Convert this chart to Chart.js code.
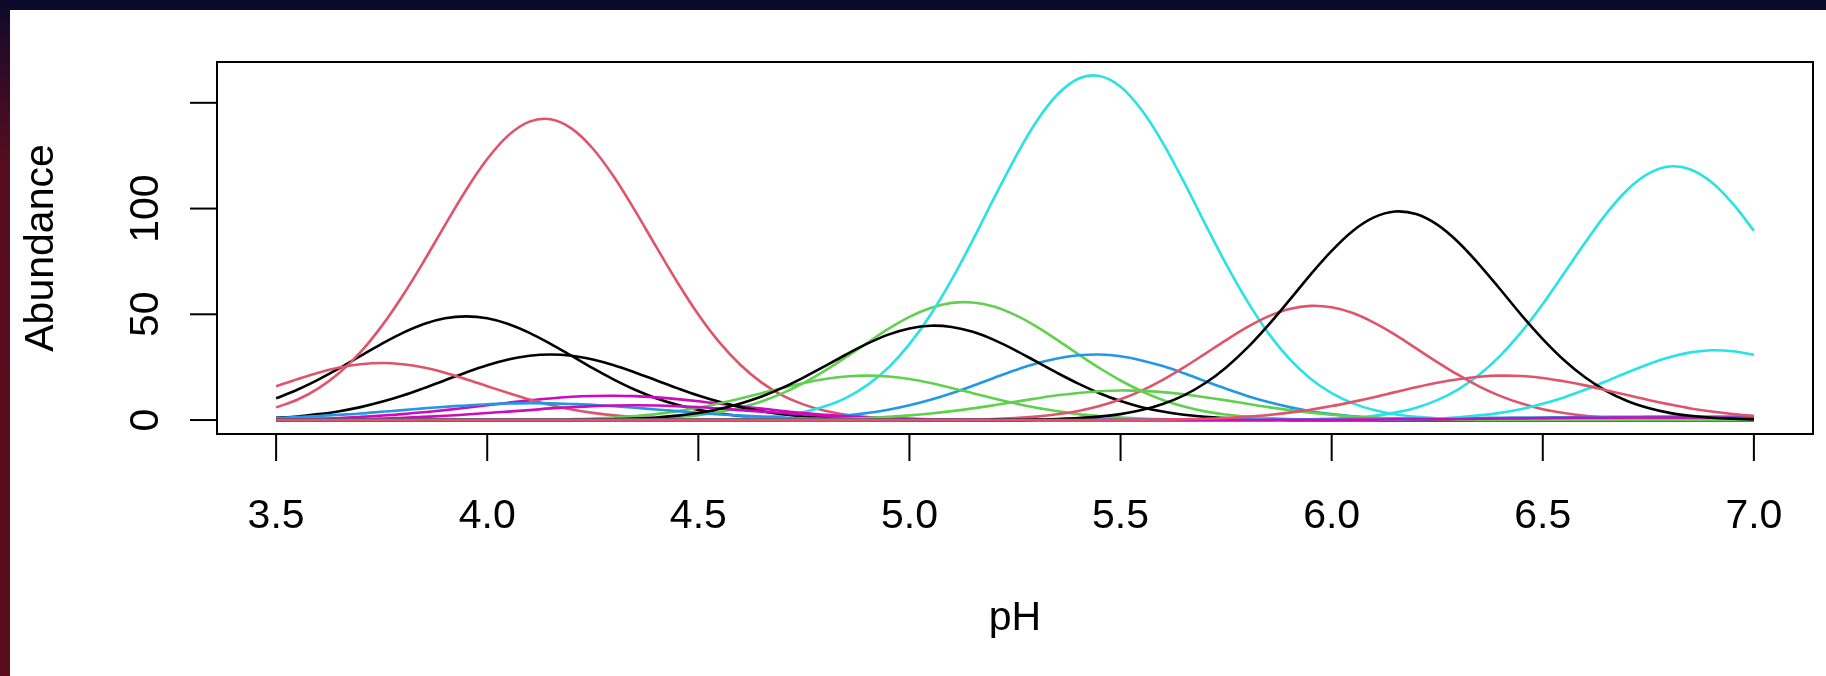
<!DOCTYPE html>
<html lang="en">

<head>
    <meta charset="utf-8">
    <title>Species abundance along pH</title>

    <!-- Chart.js -->
    <script src="https://cdn.jsdelivr.net/npm/chart.js@4.4.1/dist/chart.umd.min.js"></script>

    <style>
        body {
            margin: 0;
            background-color: #ffffff;
            width: 1826px;
            height: 676px;
            overflow: hidden;
            position: relative;
        }

        #topBand {
            position: absolute;
            left: 0;
            top: 0;
            width: 1826px;
            height: 10px;
            background-color: #0b0a2a;
        }

        #leftBand {
            position: absolute;
            left: 0;
            top: 0;
            width: 10px;
            height: 676px;
            background: linear-gradient(to bottom, #0b0a2a 0px, #2c0b26 60px, #550d1f 160px, #5a0c1a 676px);
        }

        #wrap {
            position: absolute;
            left: 10px;
            top: 10px;
        }
    </style>
</head>

<body>
    <div id="topBand"></div>
    <div id="leftBand"></div>
    <div id="wrap">
        <canvas id="myChart" width="1816" height="666"></canvas>
    </div>
</body>

<script>
    // pH grid the curves were read at
    var pH = [
        3.50, 3.55, 3.60, 3.65, 3.70, 3.75, 3.80, 3.85, 3.90, 3.95,
        4.00, 4.05, 4.10, 4.15, 4.20, 4.25, 4.30, 4.35, 4.40, 4.45,
        4.50, 4.55, 4.60, 4.65, 4.70, 4.75, 4.80, 4.85, 4.90, 4.95,
        5.00, 5.05, 5.10, 5.15, 5.20, 5.25, 5.30, 5.35, 5.40, 5.45,
        5.50, 5.55, 5.60, 5.65, 5.70, 5.75, 5.80, 5.85, 5.90, 5.95,
        6.00, 6.05, 6.10, 6.15, 6.20, 6.25, 6.30, 6.35, 6.40, 6.45,
        6.50, 6.55, 6.60, 6.65, 6.70, 6.75, 6.80, 6.85, 6.90, 6.95,
        7.00
    ];

    // abundance of each species (one value per pH step)
    var sp1 = [
        10.3, 14.3, 19.1, 24.5, 30.3, 36.0, 41.2, 45.4, 48.1, 49.0,
        48.1, 45.4, 41.2, 36.0, 30.3, 24.5, 19.1, 14.3, 10.3, 7.2,
        4.8, 3.1, 1.9, 1.1, 0.6, 0.4, 0.2, 0.1, 0, 0,
        0, 0, 0, 0, 0, 0, 0, 0, 0, 0,
        0, 0, 0, 0, 0, 0, 0, 0, 0, 0,
        0, 0, 0, 0, 0, 0, 0, 0, 0, 0,
        0, 0, 0, 0, 0, 0, 0, 0, 0, 0,
        0
    ];
    var sp2 = [
        6.0, 9.6, 15.0, 22.4, 32.1, 44.4, 58.9, 75.1, 92.2, 108.8,
        123.4, 134.6, 141.1, 142.2, 137.8, 128.4, 115.0, 99.0, 82.0, 65.3,
        49.9, 36.7, 26.0, 17.7, 11.5, 7.3, 4.4, 2.5, 1.4, 0.8,
        0.4, 0.2, 0.1, 0, 0, 0, 0, 0, 0, 0,
        0, 0, 0, 0, 0, 0, 0, 0, 0, 0,
        0, 0, 0, 0, 0, 0, 0, 0, 0, 0,
        0, 0, 0, 0, 0, 0, 0, 0, 0, 0,
        0
    ];
    var sp3 = [
        0, 0, 0, 0, 0, 0, 0, 0, 0, 0,
        0, 0, 0, 0, 0, 0.1, 0.2, 0.4, 0.8, 1.4,
        2.3, 3.8, 5.9, 8.8, 12.7, 17.6, 23.4, 29.8, 36.5, 43.1,
        48.8, 53.0, 55.4, 55.6, 53.7, 49.7, 44.3, 37.9, 31.1, 24.6,
        18.7, 13.6, 9.5, 6.4, 4.1, 2.6, 1.5, 0.9, 0.5, 0.3,
        0.1, 0, 0, 0, 0, 0, 0, 0, 0, 0,
        0, 0, 0, 0, 0, 0, 0, 0, 0, 0,
        0
    ];
    var sp4 = [
        0, 0, 0, 0, 0, 0, 0, 0, 0, 0,
        0, 0, 0, 0, 0, 0, 0, 0, 0, 0,
        0, 0.1, 0.1, 0.3, 0.5, 0.8, 1.3, 2.1, 3.3, 4.9,
        7.0, 9.6, 12.7, 16.2, 19.9, 23.5, 26.7, 29.1, 30.6, 31.0,
        30.2, 28.2, 25.5, 22.1, 18.4, 14.8, 11.4, 8.5, 6.1, 4.2,
        2.8, 1.8, 1.1, 0.6, 0.4, 0.2, 0.1, 0, 0, 0,
        0, 0, 0, 0, 0, 0, 0, 0, 0, 0,
        0
    ];
    var sp5 = [
        0, 0, 0, 0, 0, 0, 0, 0, 0, 0,
        0, 0, 0, 0, 0, 0, 0, 0, 0, 0.1,
        0.1, 0.3, 0.6, 1.2, 2.2, 3.8, 6.5, 10.5, 16.5, 24.8,
        35.9, 49.8, 66.4, 85.1, 104.8, 123.9, 140.9, 153.8, 161.4, 162.7,
        157.6, 146.6, 131.1, 112.6, 92.9, 73.7, 56.2, 41.1, 28.9, 19.5,
        12.7, 7.9, 4.7, 2.7, 1.5, 0.8, 0.4, 0.2, 0.1, 0,
        0, 0, 0, 0, 0, 0, 0, 0, 0, 0,
        0
    ];
    var sp6 = [
        0.3, 0.5, 0.7, 1.0, 1.5, 2.1, 2.8, 3.7, 4.7, 5.8,
        7.0, 8.2, 9.3, 10.2, 11.0, 11.4, 11.5, 11.3, 10.7, 9.9,
        8.9, 7.7, 6.5, 5.4, 4.3, 3.3, 2.5, 1.8, 1.3, 0.9,
        0.6, 0.4, 0.2, 0.1, 0.1, 0, 0, 0, 0, 0,
        0, 0, 0, 0, 0, 0, 0, 0, 0, 0,
        0, 0, 0, 0, 0, 0, 0, 0, 0, 0,
        0, 0, 0, 0, 0, 0, 0, 0, 0, 0,
        0
    ];
    var sp7 = [
        1.1, 1.7, 2.8, 4.2, 6.1, 8.6, 11.6, 15.1, 18.8, 22.5,
        25.9, 28.6, 30.4, 31.0, 30.4, 28.6, 25.9, 22.5, 18.8, 15.1,
        11.6, 8.6, 6.1, 4.2, 2.8, 1.7, 1.1, 0.6, 0.3, 0.2,
        0.1, 0, 0, 0, 0, 0, 0, 0, 0, 0,
        0, 0, 0, 0, 0, 0, 0, 0, 0, 0,
        0, 0, 0, 0, 0, 0, 0, 0, 0, 0,
        0, 0, 0, 0, 0, 0, 0, 0, 0, 0,
        0
    ];
    var sp8 = [
        16.0, 19.3, 22.4, 24.8, 26.4, 27.0, 26.4, 24.8, 22.4, 19.3,
        16.0, 12.8, 9.7, 7.1, 5.0, 3.4, 2.2, 1.3, 0.8, 0.5,
        0.2, 0.1, 0.1, 0, 0, 0, 0, 0, 0, 0,
        0, 0, 0, 0, 0, 0, 0, 0, 0, 0,
        0, 0, 0, 0, 0, 0, 0, 0, 0, 0,
        0, 0, 0, 0, 0, 0, 0, 0, 0, 0,
        0, 0, 0, 0, 0, 0, 0, 0, 0, 0,
        0
    ];
    var sp9 = [
        0, 0, 0, 0, 0, 0, 0, 0, 0, 0,
        0, 0.1, 0.1, 0.2, 0.4, 0.7, 1.2, 1.9, 2.8, 4.2,
        5.8, 7.9, 10.2, 12.7, 15.2, 17.5, 19.4, 20.6, 21.0, 20.6,
        19.4, 17.5, 15.2, 12.7, 10.2, 7.9, 5.8, 4.2, 2.8, 1.9,
        1.2, 0.7, 0.4, 0.2, 0.1, 0.1, 0, 0, 0, 0,
        0, 0, 0, 0, 0, 0, 0, 0, 0, 0,
        0, 0, 0, 0, 0, 0, 0, 0, 0, 0,
        0
    ];
    var sp10 = [
        1.0, 1.4, 1.9, 2.5, 3.1, 3.9, 4.7, 5.5, 6.3, 6.9,
        7.5, 7.8, 8.0, 7.9, 7.6, 7.2, 6.5, 5.8, 5.0, 4.2,
        3.4, 2.7, 2.1, 1.6, 1.2, 0.8, 0.6, 0.4, 0.2, 0.2,
        0.1, 0.1, 0, 0, 0, 0, 0, 0, 0, 0,
        0, 0, 0, 0, 0, 0, 0, 0, 0, 0,
        0, 0, 0, 0, 0, 0, 0, 0, 0, 0,
        0, 0, 0, 0, 0, 0, 0, 0, 0, 0,
        0
    ];
    var sp11 = [
        0, 0, 0, 0, 0, 0, 0, 0, 0, 0,
        0, 0, 0, 0, 0, 0, 0, 0, 0, 0,
        0, 0, 0, 0, 0, 0, 0, 0, 0, 0,
        0, 0, 0, 0, 0, 0, 0, 0, 0, 0,
        0, 0, 0, 0, 0, 0, 0, 0.1, 0.1, 0.3,
        0.6, 1.1, 2.0, 3.5, 5.8, 9.4, 14.5, 21.5, 30.6, 41.8,
        54.9, 69.3, 83.8, 97.5, 108.8, 116.5, 119.9, 118.5, 112.4, 102.3,
        89.5
    ];
    var sp12 = [
        0.1, 0.1, 0.2, 0.3, 0.5, 0.7, 1.1, 1.5, 2.0, 2.6,
        3.3, 4.0, 4.7, 5.5, 6.1, 6.6, 6.9, 7.0, 6.9, 6.6,
        6.1, 5.5, 4.7, 4.0, 3.3, 2.6, 2.0, 1.5, 1.1, 0.7,
        0.5, 0.3, 0.2, 0.1, 0.1, 0, 0, 0, 0, 0,
        0, 0, 0, 0, 0, 0, 0, 0, 0, 0,
        0, 0, 0, 0, 0, 0, 0, 0, 0, 0,
        0, 0, 0, 0, 0, 0, 0, 0, 0, 0,
        0
    ];
    var sp13 = [
        0, 0, 0, 0, 0, 0, 0, 0, 0, 0,
        0, 0, 0, 0, 0.1, 0.2, 0.4, 0.7, 1.2, 2.1,
        3.3, 5.2, 7.8, 11.1, 15.3, 20.2, 25.5, 31.0, 36.1, 40.4,
        43.3, 44.6, 44.0, 41.7, 37.9, 33.1, 27.7, 22.3, 17.2, 12.7,
        9.0, 6.1, 4.0, 2.5, 1.5, 0.9, 0.5, 0.3, 0.1, 0.1,
        0, 0, 0, 0, 0, 0, 0, 0, 0, 0,
        0, 0, 0, 0, 0, 0, 0, 0, 0, 0,
        0
    ];
    var sp14 = [
        0, 0, 0, 0, 0, 0, 0, 0, 0, 0,
        0, 0, 0, 0, 0, 0, 0, 0, 0, 0,
        0, 0, 0, 0, 0, 0, 0, 0, 0, 0,
        0, 0.1, 0.1, 0.3, 0.5, 0.9, 1.6, 2.7, 4.3, 6.6,
        9.8, 13.9, 19.0, 24.9, 31.3, 37.8, 43.9, 49.0, 52.5, 54.0,
        53.3, 50.6, 46.1, 40.4, 33.9, 27.4, 21.3, 15.8, 11.3, 7.8,
        5.1, 3.3, 2.0, 1.2, 0.7, 0.4, 0.2, 0.1, 0, 0,
        0
    ];
    var sp15 = [
        0, 0, 0, 0, 0, 0, 0, 0, 0, 0,
        0, 0, 0, 0, 0, 0, 0, 0, 0, 0,
        0, 0, 0, 0.1, 0.1, 0.2, 0.4, 0.6, 1.0, 1.5,
        2.2, 3.1, 4.2, 5.5, 7.0, 8.6, 10.2, 11.7, 12.8, 13.6,
        14.0, 13.8, 13.2, 12.2, 10.8, 9.3, 7.7, 6.1, 4.7, 3.5,
        2.5, 1.7, 1.2, 0.8, 0.5, 0.3, 0.2, 0.1, 0, 0,
        0, 0, 0, 0, 0, 0, 0, 0, 0, 0,
        0
    ];
    var sp16 = [
        0, 0, 0, 0, 0, 0, 0, 0, 0, 0,
        0, 0, 0, 0, 0, 0, 0, 0, 0, 0,
        0, 0, 0, 0, 0, 0, 0, 0, 0, 0,
        0, 0, 0, 0, 0, 0, 0, 0, 0.1, 0.1,
        0.1, 0.1, 0.1, 0.2, 0.2, 0.2, 0.3, 0.3, 0.4, 0.4,
        0.5, 0.6, 0.6, 0.7, 0.8, 0.8, 0.9, 1.0, 1.1, 1.2,
        1.2, 1.3, 1.4, 1.5, 1.5, 1.6, 1.6, 1.7, 1.7, 1.7,
        1.7
    ];
    var sp17 = [
        0, 0, 0, 0, 0, 0, 0, 0, 0, 0,
        0, 0, 0, 0, 0, 0, 0, 0, 0, 0,
        0, 0, 0, 0, 0, 0, 0, 0, 0, 0,
        0, 0, 0, 0, 0, 0, 0, 0, 0, 0,
        0, 0, 0, 0, 0, 0, 0, 0, 0, 0,
        0, 0.1, 0.1, 0.2, 0.4, 0.7, 1.3, 2.2, 3.4, 5.2,
        7.7, 10.7, 14.3, 18.3, 22.5, 26.4, 29.7, 32.0, 33.0, 32.5,
        30.8
    ];
    var sp18 = [
        0, 0, 0, 0, 0, 0, 0, 0, 0, 0,
        0, 0, 0, 0, 0, 0, 0, 0, 0, 0,
        0, 0, 0, 0, 0, 0, 0, 0, 0, 0,
        0, 0, 0, 0, 0, 0, 0, 0, 0, 0,
        0, 0, 0, 0, 0, 0, 0, 0.1, 0.1, 0.1,
        0.1, 0.2, 0.2, 0.3, 0.4, 0.4, 0.5, 0.6, 0.7, 0.8,
        0.9, 1.0, 1.1, 1.1, 1.2, 1.2, 1.2, 1.2, 1.2, 1.1,
        1.1
    ];
    var sp19 = [
        0, 0, 0, 0, 0, 0, 0, 0, 0, 0,
        0, 0, 0, 0, 0, 0, 0, 0, 0, 0,
        0, 0, 0, 0, 0, 0, 0, 0, 0, 0,
        0, 0, 0, 0, 0.1, 0.1, 0.2, 0.5, 0.9, 1.6,
        2.8, 4.7, 7.6, 11.7, 17.4, 24.9, 34.1, 44.9, 56.7, 68.8,
        80.0, 89.4, 95.8, 98.6, 97.4, 92.4, 84.1, 73.4, 61.6, 49.5,
        38.3, 28.4, 20.2, 13.8, 9.0, 5.7, 3.4, 2.0, 1.1, 0.6,
        0.3
    ];
    var sp20 = [
        0, 0, 0, 0, 0, 0, 0, 0, 0, 0,
        0, 0, 0, 0, 0, 0, 0, 0, 0, 0,
        0, 0, 0, 0, 0, 0, 0, 0, 0, 0,
        0, 0, 0, 0, 0, 0, 0, 0, 0, 0,
        0.1, 0.1, 0.2, 0.4, 0.6, 1.0, 1.6, 2.4, 3.5, 4.9,
        6.6, 8.6, 10.8, 13.2, 15.5, 17.6, 19.3, 20.5, 21.0, 20.8,
        19.9, 18.3, 16.4, 14.1, 11.8, 9.5, 7.4, 5.5, 4.0, 2.8,
        1.9
    ];

    var species = [sp1, sp2, sp3, sp4, sp5, sp6, sp7, sp8, sp9, sp10,
        sp11, sp12, sp13, sp14, sp15, sp16, sp17, sp18, sp19, sp20];

    // R default palette, cycled like matplot
    var palette = ['#000000', '#DF536B', '#61D04F', '#2297E6', '#28E2E5', '#CD0BBC'];

    // axis ticks
    var xTicks = [3.5, 4.0, 4.5, 5.0, 5.5, 6.0, 6.5, 7.0];
    var xTickLabels = ['3.5', '4.0', '4.5', '5.0', '5.5', '6.0', '6.5', '7.0'];
    var yTicks = [0, 50, 100, 150];
    var yTickLabels = ['0', '50', '100', ''];
    var xTitle = 'pH';
    var yTitle = 'Abundance';

    var FONT = '41px "Liberation Sans", Arial, Helvetica, sans-serif';

    // R-like frame, outward ticks and rotated y labels
    let rAxes = {
        id: 'rAxes',
        afterDraw: (chart) => {
            let ctx = chart.ctx;
            let a = chart.chartArea;
            let x = chart.scales.x;
            let y = chart.scales.y;

            ctx.save();
            ctx.strokeStyle = '#000';
            ctx.fillStyle = '#000';
            ctx.lineWidth = 2;
            ctx.strokeRect(a.left, a.top, a.right - a.left, a.bottom - a.top);

            ctx.font = FONT;
            ctx.textAlign = 'center';
            ctx.textBaseline = 'alphabetic';

            xTicks.forEach((v, i) => {
                let px = x.getPixelForValue(v);
                ctx.beginPath();
                ctx.moveTo(px, a.bottom);
                ctx.lineTo(px, a.bottom + 27);
                ctx.stroke();
                ctx.fillText(xTickLabels[i], px, a.bottom + 94);
            });
            ctx.fillText(xTitle, (a.left + a.right) / 2, a.bottom + 196);

            yTicks.forEach((v, i) => {
                let py = y.getPixelForValue(v);
                ctx.beginPath();
                ctx.moveTo(a.left - 27, py);
                ctx.lineTo(a.left, py);
                ctx.stroke();
                if (yTickLabels[i]) {
                    ctx.save();
                    ctx.translate(a.left - 59, py);
                    ctx.rotate(-Math.PI / 2);
                    ctx.fillText(yTickLabels[i], 0, 0);
                    ctx.restore();
                }
            });

            ctx.save();
            ctx.translate(43, (a.top + a.bottom) / 2);
            ctx.rotate(-Math.PI / 2);
            ctx.fillText(yTitle, 0, 0);
            ctx.restore();

            ctx.restore();
        }
    };

    let showChart = () => {
        let n = species.length;
        let datasets = species.map((s, i) => ({
            label: 'sp' + (i + 1),
            data: pH.map((v, k) => ({ x: v, y: s[k] })),
            borderColor: palette[i % palette.length],
            borderWidth: 2.6,
            pointRadius: 0,
            fill: false,
            tension: 0.35,
            order: n - i
        }));

        new Chart(document.getElementById('myChart'), {
            type: 'line',
            data: { datasets: datasets },
            options: {
                responsive: false,
                animation: false,
                devicePixelRatio: 1,
                layout: { padding: { left: 207, top: 52, right: 13, bottom: 242 } },
                plugins: {
                    legend: { display: false },
                    tooltip: { enabled: false }
                },
                scales: {
                    x: { type: 'linear', min: 3.36, max: 7.14, display: false },
                    y: { type: 'linear', min: -6.6, max: 169.3, display: false }
                }
            },
            plugins: [rAxes]
        });
    };

    showChart();
</script>

</html>
